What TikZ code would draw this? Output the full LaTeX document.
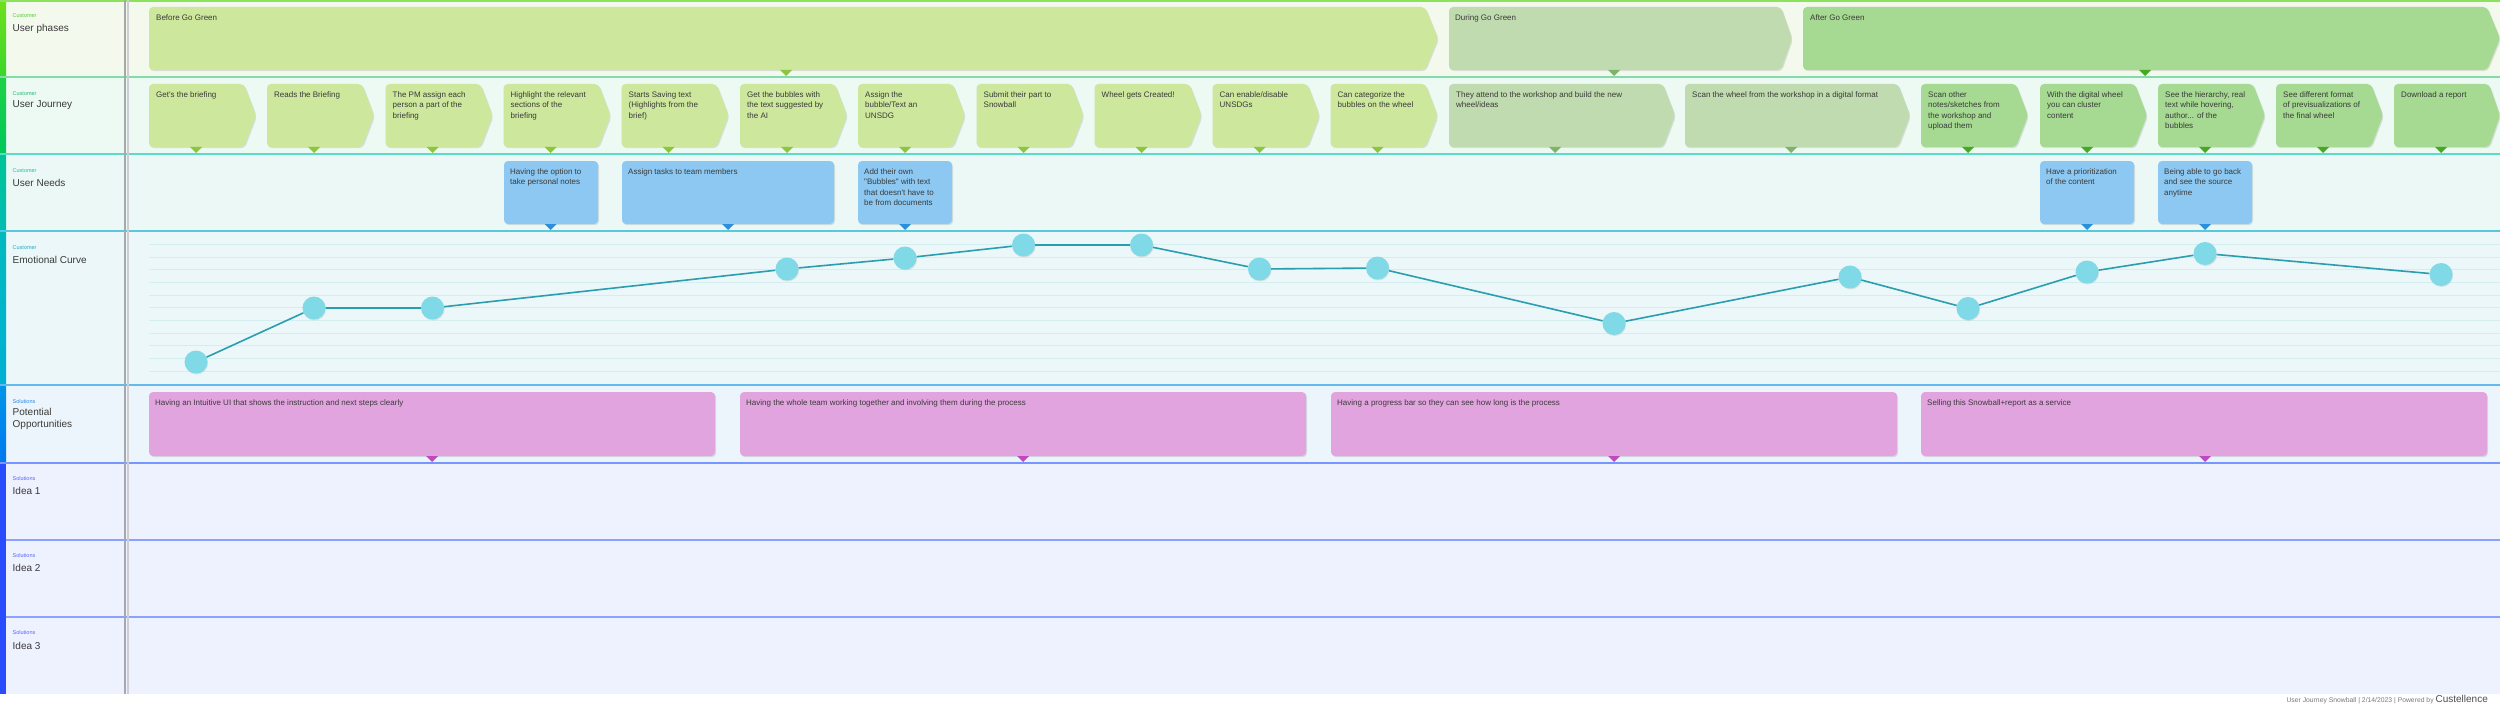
\documentclass[tikz,border=0pt]{standalone}
\usepackage{fontspec}
\setmainfont{Liberation Sans}[Ligatures=TeXOff]
\usetikzlibrary{shadows}
\definecolor{bgPh}{HTML}{F3F9EC}
\definecolor{bgJo}{HTML}{EDF9F3}
\definecolor{bgNe}{HTML}{EBF8F6}
\definecolor{bgEm}{HTML}{EBF7F8}
\definecolor{bgOp}{HTML}{ECF5FB}
\definecolor{bgId}{HTML}{EEF1FE}
\definecolor{gA}{HTML}{CDE79D}
\definecolor{gAt}{HTML}{8CC63F}
\definecolor{gB}{HTML}{C0DBAF}
\definecolor{gBt}{HTML}{7DB36A}
\definecolor{gC}{HTML}{A6D992}
\definecolor{gCt}{HTML}{44AA22}
\definecolor{needF}{HTML}{8CC8F2}
\definecolor{needT}{HTML}{2A90DD}
\definecolor{oppF}{HTML}{E2A4DF}
\definecolor{oppT}{HTML}{C048C0}
\definecolor{curveC}{HTML}{2A9DAF}
\definecolor{dotC}{HTML}{80D9E6}
\definecolor{gridC}{HTML}{D4EEEF}
\definecolor{txtC}{HTML}{3A3A3A}
\definecolor{catPh}{HTML}{55CC33}
\definecolor{catJo}{HTML}{22BB77}
\definecolor{catNe}{HTML}{22BBAA}
\definecolor{catEm}{HTML}{22AACC}
\definecolor{catOp}{HTML}{2288EE}
\definecolor{catId}{HTML}{5566FF}
\definecolor{stOneA}{HTML}{6EE01E}
\definecolor{stOneB}{HTML}{3CD628}
\definecolor{stTwoA}{HTML}{1ED246}
\definecolor{stTwoB}{HTML}{00C85A}
\definecolor{stThrA}{HTML}{00C496}
\definecolor{stThrB}{HTML}{00BCB4}
\definecolor{stFouA}{HTML}{00BABE}
\definecolor{stFouB}{HTML}{00B0D6}
\definecolor{stFivA}{HTML}{0096E8}
\definecolor{stFivB}{HTML}{0078F0}
\definecolor{stSix}{HTML}{2A4CFF}
\definecolor{sepA}{HTML}{8CE25A}
\definecolor{sepB}{HTML}{82DCAA}
\definecolor{sepC}{HTML}{5ADCC8}
\definecolor{sepD}{HTML}{5AC8DC}
\definecolor{sepE}{HTML}{64B9EE}
\definecolor{sepF}{HTML}{7896FF}
\definecolor{sepG}{HTML}{8CA0FF}
\definecolor{divA}{HTML}{CDCDD2}
\definecolor{divB}{HTML}{A8A8AC}
\definecolor{footC}{HTML}{787878}
\definecolor{logoC}{HTML}{4D4D4D}
\tikzset{
  lbl/.style={anchor=north west, inner sep=0pt, align=left, text=txtC,
    font=\fontsize{8}{10.5}\selectfont},
  rowlab/.style={anchor=west, inner sep=0pt, align=left, text=txtC,
    font=\fontsize{10}{12}\selectfont},
  catlab/.style={anchor=west, inner sep=0pt, font=\fontsize{5.5}{6}\selectfont},
  dotnode/.style={circle, fill=dotC, minimum size=23pt, inner sep=0pt,
    drop shadow={opacity=0.18, shadow xshift=0.6pt, shadow yshift=-1pt}},
  sepline/.style={line width=1.5pt},
  gridline/.style={gridC, line width=0.8pt},
}
\newcommand\chevshape[6]{% L T E P B colour
  \fill[black, opacity=.10, rounded corners=4pt, shift={(1,1.2)}]
    (#1,#2) -- (#3,#2) -- (#4,{(#2+#5)/2}) -- (#3,#5) -- (#1,#5) -- cycle;
  \fill[#6, rounded corners=4pt]
    (#1,#2) -- (#3,#2) -- (#4,{(#2+#5)/2}) -- (#3,#5) -- (#1,#5) -- cycle;}
\newcommand\downtri[3]{% x y colour
  \fill[#3] (#1-6,#2) -- (#1+6,#2) -- (#1,#2+6) -- cycle;}
\newcommand\jstep[8]{% name L E P fill tricol trix text
  \chevshape{#2}{84}{#3}{#4}{147}{#5}
  \downtri{#7}{147}{#6}
  \node[lbl] (#1) at (#2+7,91.5) {#8};}
\newcommand\rbox[7]{% L R T B fill tricol trix
  \fill[black, opacity=.10, rounded corners=4pt, shift={(1,1.2)}] (#1,#3) rectangle (#2,#4);
  \fill[#5, rounded corners=4pt] (#1,#3) rectangle (#2,#4);
  \downtri{#7}{#4}{#6}}
\begin{document}
\begin{tikzpicture}[x=1pt, y=-1pt]
\useasboundingbox (0,0) rectangle (2500,706);
\fill[white] (0,0) rectangle (2500,706);
% row backgrounds
\fill[bgPh] (0,0) rectangle (2500,77);
\fill[bgJo] (0,77) rectangle (2500,154);
\fill[bgNe] (0,154) rectangle (2500,231);
\fill[bgEm] (0,231) rectangle (2500,385);
\fill[bgOp] (0,385) rectangle (2500,463);
\fill[bgId] (0,463) rectangle (2500,694);
% left colour strip
\shade[top color=stOneA, bottom color=stOneB] (0,0) rectangle (6,77);
\shade[top color=stTwoA, bottom color=stTwoB] (0,77) rectangle (6,154);
\shade[top color=stThrA, bottom color=stThrB] (0,154) rectangle (6,231);
\shade[top color=stFouA, bottom color=stFouB] (0,231) rectangle (6,385);
\shade[top color=stFivA, bottom color=stFivB] (0,385) rectangle (6,463);
\fill[stSix] (0,463) rectangle (6,694);
% emotional grid
\foreach \i in {0,...,10} {
  \draw[gridline] (149,{244.5+12.65*\i}) -- (2500,{244.5+12.65*\i});
}
% separators
\draw[sepline, sepA] (0,0.8) -- (2500,0.8);
\draw[sepline, sepB] (0,77) -- (2500,77);
\draw[sepline, sepC] (0,154) -- (2500,154);
\draw[sepline, sepD] (0,231) -- (2500,231);
\draw[sepline, sepE] (0,385) -- (2500,385);
\draw[sepline, sepF] (0,463) -- (2500,463);
\draw[sepline, sepG] (6,540) -- (2500,540);
\draw[sepline, sepG] (6,617) -- (2500,617);
% divider
\draw[line width=2pt, divA] (127.5,0) -- (127.5,694);
\draw[line width=2.4pt, divB] (125,0) -- (125,694);
% row labels
\node[catlab, text=catPh] (c1) at (12.5,16) {Customer};
\node[rowlab] (r1) at (12.5,28.5) {User phases};
\node[catlab, text=catJo] (c2) at (12.5,94) {Customer};
\node[rowlab] (r2) at (12.5,105.5) {User Journey};
\node[catlab, text=catNe] (c3) at (12.5,171) {Customer};
\node[rowlab] (r3) at (12.5,183) {User Needs};
\node[catlab, text=catEm] (c4) at (12.5,247.5) {Customer};
\node[rowlab] (r4) at (12.5,260) {Emotional Curve};
\node[catlab, text=catOp] (c5) at (12.5,402) {Solutions};
\node[rowlab, anchor=north west] (r5) at (12.5,408) {Potential\\Opportunities};
\node[catlab, text=catId] (c6) at (12.5,478.5) {Solutions};
\node[rowlab] (r6) at (12.5,491) {Idea 1};
\node[catlab, text=catId] (c7) at (12.5,556) {Solutions};
\node[rowlab] (r7) at (12.5,568) {Idea 2};
\node[catlab, text=catId] (c8) at (12.5,633) {Solutions};
\node[rowlab] (r8) at (12.5,645.5) {Idea 3};
% phases
\chevshape{149}{7}{1425}{1438}{70}{gA}
\downtri{786}{70}{gAt}
\node[lbl] (ph1) at (156,14.5) {Before Go Green};
\chevshape{1449}{7}{1781}{1792}{70}{gB}
\downtri{1614}{70}{gBt}
\node[lbl] (ph2) at (1455,14.5) {During Go Green};
\chevshape{1803}{7}{2487}{2500}{70}{gC}
\downtri{2145}{70}{gCt}
\node[lbl] (ph3) at (1810,14.5) {After Go Green};
% journey
\jstep{j1}{149}{244}{256}{gA}{gAt}{196}{Get's the briefing}
\jstep{j2}{267}{362}{374}{gA}{gAt}{314}{Reads the Briefing}
\jstep{j3}{385.5}{480.5}{492.5}{gA}{gAt}{432.5}{The PM assign each\\person a part of the\\briefing}
\jstep{j4}{503.5}{598.5}{610.5}{gA}{gAt}{550.5}{Highlight the relevant\\sections of the\\briefing}
\jstep{j5}{621.5}{716.5}{728.5}{gA}{gAt}{668.5}{Starts Saving text\\(Highlights from the\\brief)}
\jstep{j6}{740}{835}{847}{gA}{gAt}{787}{Get the bubbles with\\the text suggested by\\the AI}
\jstep{j7}{858}{953}{965}{gA}{gAt}{905}{Assign the\\bubble/Text an\\UNSDG}
\jstep{j8}{976.5}{1071.5}{1083.5}{gA}{gAt}{1023.5}{Submit their part to\\Snowball}
\jstep{j9}{1094.5}{1189.5}{1201.5}{gA}{gAt}{1141.5}{Wheel gets Created!}
\jstep{j10}{1212.5}{1307.5}{1319.5}{gA}{gAt}{1259.5}{Can enable/disable\\UNSDGs}
\jstep{j11}{1330.5}{1425.5}{1437.5}{gA}{gAt}{1377.5}{Can categorize the\\bubbles on the wheel}
\jstep{j12}{1449}{1663}{1675}{gB}{gBt}{1555}{They attend to the workshop and build the new\\wheel/ideas}
\jstep{j13}{1685}{1898}{1910}{gB}{gBt}{1791}{Scan the wheel from the workshop in a digital format}
\jstep{j14}{1921}{2016}{2028}{gC}{gCt}{1968}{Scan other\\notes/sketches from\\the workshop and\\upload them}
\jstep{j15}{2040}{2135}{2147}{gC}{gCt}{2087}{With the digital wheel\\you can cluster\\content}
\jstep{j16}{2158}{2253}{2265}{gC}{gCt}{2205}{See the hierarchy, real\\text while hovering,\\author... of the\\bubbles}
\jstep{j17}{2276}{2371}{2383}{gC}{gCt}{2323}{See different format\\of previsualizations of\\the final wheel}
\jstep{j18}{2394}{2489}{2500}{gC}{gCt}{2441}{Download a report}
% needs
\rbox{504}{598}{161}{224}{needF}{needT}{550.5}
\node[lbl] (n1) at (510,168.5) {Having the option to\\take personal notes};
\rbox{622}{834}{161}{224}{needF}{needT}{728}
\node[lbl] (n2) at (628,168.5) {Assign tasks to team members};
\rbox{858}{952}{161}{224}{needF}{needT}{905}
\node[lbl] (n3) at (864,168.5) {Add their own\\"Bubbles" with text\\that doesn't have to\\be from documents};
\rbox{2040}{2134}{161}{224}{needF}{needT}{2087}
\node[lbl] (n4) at (2046,168.5) {Have a prioritization\\of the content};
\rbox{2158}{2252}{161}{224}{needF}{needT}{2205}
\node[lbl] (n5) at (2164,168.5) {Being able to go back\\and see the source\\anytime};
% opportunities
\rbox{149}{715}{392}{456}{oppF}{oppT}{432}
\node[lbl] (o1) at (155,399.5) {Having an Intuitive UI that shows the instruction and next steps clearly};
\rbox{740}{1306}{392}{456}{oppF}{oppT}{1023}
\node[lbl] (o2) at (746,399.5) {Having the whole team working together and involving them during the process};
\rbox{1331}{1897}{392}{456}{oppF}{oppT}{1614}
\node[lbl] (o3) at (1337,399.5) {Having a progress bar so they can see how long is the process};
\rbox{1921}{2487}{392}{456}{oppF}{oppT}{2205}
\node[lbl] (o4) at (1927,399.5) {Selling this Snowball+report as a service};
% emotional curve
\node[dotnode] (e1) at (196,362) {};
\node[dotnode] (e2) at (314,308) {};
\node[dotnode] (e3) at (432.5,308) {};
\node[dotnode] (e4) at (787,269) {};
\node[dotnode] (e5) at (905,258) {};
\node[dotnode] (e6) at (1023.5,245) {};
\node[dotnode] (e7) at (1141.5,245) {};
\node[dotnode] (e8) at (1259.5,269) {};
\node[dotnode] (e9) at (1377.5,268) {};
\node[dotnode] (e10) at (1614,323.5) {};
\node[dotnode] (e11) at (1850,277) {};
\node[dotnode] (e12) at (1968,308.5) {};
\node[dotnode] (e13) at (2087,272) {};
\node[dotnode] (e14) at (2205,253.5) {};
\node[dotnode] (e15) at (2441,274.5) {};
\draw[curveC, line width=1.6pt] (e1) -- (e2) -- (e3) -- (e4) -- (e5) -- (e6) -- (e7) -- (e8) -- (e9) -- (e10) -- (e11) -- (e12) -- (e13) -- (e14) -- (e15);
% footer
\node[anchor=base east, inner sep=0pt, text=footC] (foot) at (2488,702)
  {\fontsize{6.8}{8}\selectfont User Journey Snowball | 2/14/2023 | Powered by {\fontsize{10}{11}\selectfont\color{logoC}Custellence}};
\end{tikzpicture}
\end{document}
